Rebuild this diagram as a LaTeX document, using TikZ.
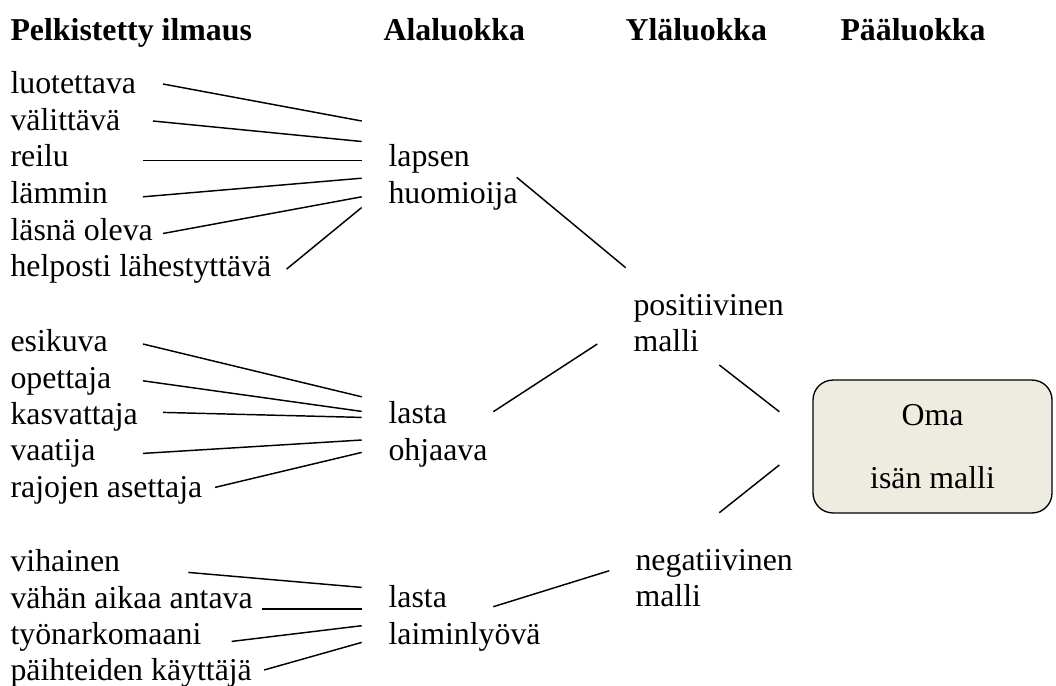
\documentclass[tikz,border=0pt]{standalone}
\usepackage{fontspec}
\setmainfont{Liberation Serif}
\begin{document}
\begin{tikzpicture}[x=0.377pt,y=-0.377pt,
  txt/.style={anchor=base west,inner sep=0pt,align=left,
    font=\fontsize{12}{13.8}\selectfont},
  head/.style={txt,font=\fontsize{12}{13.8}\selectfont\bfseries},
  link/.style={line width=0.55pt},
  mainbox/.style={draw,line width=0.5pt,fill=boxfill,rounded corners=7.5pt,
    minimum width=90.1pt,minimum height=50.1pt,align=center,inner sep=0pt,
    font=\fontsize{12}{13.8}\selectfont}]
\definecolor{boxfill}{HTML}{EEECE1}
\useasboundingbox (0,0) rectangle (1056,685);

% column headings
\node[head] (h1) at (10,40.5)  {Pelkistetty ilmaus};
\node[head] (h2) at (383,40.5) {Alaluokka};
\node[head] (h3) at (625,40.5) {Yläluokka};
\node[head] (h4) at (840,40.5) {Pääluokka};

% reduced expressions
\node[txt] (e1)  at (10,93.3)  {luotettava};
\node[txt] (e2)  at (10,130)   {välittävä};
\node[txt] (e3)  at (10,166.9) {reilu};
\node[txt] (e4)  at (10,203.4) {lämmin};
\node[txt] (e5)  at (10,240)   {läsnä oleva};
\node[txt] (e6)  at (10,276.6) {helposti lähestyttävä};
\node[txt] (e7)  at (10,351.7) {esikuva};
\node[txt] (e8)  at (10,388.3) {opettaja};
\node[txt] (e9)  at (10,424.5) {kasvattaja};
\node[txt] (e10) at (10,460.9) {vaatija};
\node[txt] (e11) at (10,497.3) {rajojen asettaja};
\node[txt] (e12) at (10,571.7) {vihainen};
\node[txt] (e13) at (10,608)   {vähän aikaa antava};
\node[txt] (e14) at (10,644)   {työnarkomaani};
\node[txt] (e15) at (10,680.4) {päihteiden käyttäjä};

% subcategories (anchored on the baseline of the second line)
\node[txt] (s1) at (388,203.4) {lapsen\\huomioija};
\node[txt] (s2) at (388,460.1) {lasta\\ohjaava};
\node[txt] (s3) at (388,644.1) {lasta\\laiminlyövä};

% upper categories
\node[txt] (u1) at (633,351.6) {positiivinen\\malli};
\node[txt] (u2) at (635,606.6) {negatiivinen\\malli};

% main category
\node[mainbox] (m) at (932.5,446.5) {Oma\\[9.95pt]isän malli};

% connector end points
\coordinate (a1) at (163,84);     \coordinate (b1) at (361.7,121);
\coordinate (a2) at (153,121);    \coordinate (b2) at (361.7,141.5);
\coordinate (a3) at (143,160.3);  \coordinate (b3) at (361.7,160.3);
\coordinate (a4) at (143,196.8);  \coordinate (b4) at (361.7,178.2);
\coordinate (a5) at (163,233.5);  \coordinate (b5) at (361.7,196.8);
\coordinate (a6) at (286.7,269);  \coordinate (b6) at (361.7,207.5);
\coordinate (a7) at (143,344);    \coordinate (b7) at (361.7,396.8);
\coordinate (a8) at (143,380.8);  \coordinate (b8) at (361.7,411.4);
\coordinate (a9) at (163,412.4);  \coordinate (b9) at (361.7,417.4);
\coordinate (a10) at (143,453.4); \coordinate (b10) at (361.7,440);
\coordinate (a11) at (215,487.4); \coordinate (b11) at (361.7,452.4);
\coordinate (a12) at (188.3,572.4);\coordinate (b12) at (361.7,587.4);
\coordinate (a13) at (261.7,609); \coordinate (b13) at (361.7,609);
\coordinate (a14) at (231.7,641.4);\coordinate (b14) at (361.7,625.7);
\coordinate (a15) at (264,670);   \coordinate (b15) at (361.7,642.4);
\coordinate (c1) at (516.7,177.3); \coordinate (d1) at (625.7,267.7);
\coordinate (c2) at (493.3,411.7); \coordinate (d2) at (597.3,344);
\coordinate (c3) at (493.3,606.7); \coordinate (d3) at (609.3,570.7);
\coordinate (f1) at (719.3,365);   \coordinate (g1) at (779.3,411.7);
\coordinate (f2) at (719.3,512.7); \coordinate (g2) at (779.3,465);

% connectors
\foreach \i in {1,...,15} \draw[link] (a\i) -- (b\i);
\foreach \i in {1,2,3} \draw[link] (c\i) -- (d\i);
\draw[link] (f1) -- (g1);
\draw[link] (f2) -- (g2);
\end{tikzpicture}
\end{document}
